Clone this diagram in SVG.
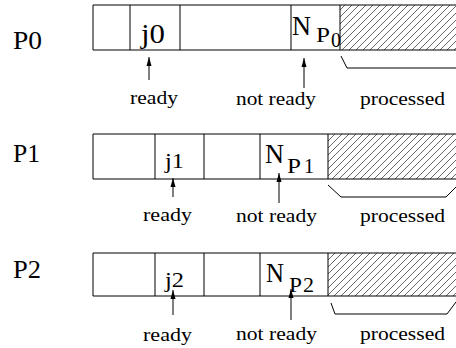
<svg xmlns="http://www.w3.org/2000/svg" width="456" height="348" viewBox="0 0 456 348">
<style>
  text { font-family: "Liberation Serif", "Times New Roman", serif; fill: #000; }
  .box { fill: none; stroke: #000; stroke-width: 1; }
  .div { stroke: #000; stroke-width: 1; }
  .hatch { fill: url(#hatch); stroke: none; }
  .lbl { font-size: 19px; }
  .big { font-size: 25px; }
  .arrow { stroke: #000; stroke-width: 1; fill: none; marker-end: url(#ah); }
  .brace { stroke: #000; stroke-width: 1; fill: none; }
</style>
<defs>
  <pattern id="hatch" patternUnits="userSpaceOnUse" width="7" height="7">
    <path d="M-1,8 L8,-1 M-1,1 L1,-1 M6,8 L8,6" stroke="#000" stroke-width="0.6"/>
  </pattern>
  <marker id="ah" markerWidth="10" markerHeight="8" refX="9" refY="4" orient="auto" markerUnits="userSpaceOnUse">
    <path d="M0,1.5 L9,4 L0,6.5 Z" fill="#000"/>
  </marker>
</defs>
<rect width="456" height="348" fill="#fff"/>

<g id="row-p0">
  <text class="big" x="13" y="49" textLength="29" lengthAdjust="spacingAndGlyphs">P0</text>
  <rect class="hatch" x="340" y="5" width="116" height="45"/>
  <path class="box" d="M457,5 L93,5 L93,50 L457,50"/>
  <line class="div" x1="130" y1="5" x2="130" y2="50"/>
  <line class="div" x1="180" y1="5" x2="180" y2="50"/>
  <line class="div" x1="291" y1="5" x2="291" y2="50"/>
  <line class="div" x1="340" y1="5" x2="340" y2="50"/>
  <text x="141" y="43" font-size="27" textLength="24" lengthAdjust="spacingAndGlyphs">j0</text>
  <text x="292" y="35" font-size="27" textLength="19" lengthAdjust="spacingAndGlyphs">N</text>
  <text x="316" y="42" font-size="21" textLength="14" lengthAdjust="spacingAndGlyphs">P</text>
  <text x="331" y="47" font-size="22" textLength="10" lengthAdjust="spacingAndGlyphs">0</text>
  <text class="lbl" x="130" y="104" textLength="48" lengthAdjust="spacingAndGlyphs">ready</text>
  <text class="lbl" x="236" y="105" textLength="80" lengthAdjust="spacingAndGlyphs">not ready</text>
  <text class="lbl" x="360" y="105" textLength="85" lengthAdjust="spacingAndGlyphs">processed</text>
</g>

<g id="row-p1">
  <text class="big" x="13" y="162" textLength="27" lengthAdjust="spacingAndGlyphs">P1</text>
  <rect class="hatch" x="328" y="134" width="128" height="45"/>
  <path class="box" d="M457,134 L93,134 L93,179 L457,179"/>
  <line class="div" x1="155" y1="134" x2="155" y2="179"/>
  <line class="div" x1="204" y1="134" x2="204" y2="179"/>
  <line class="div" x1="260" y1="134" x2="260" y2="179"/>
  <line class="div" x1="328" y1="134" x2="328" y2="179"/>
  <text x="165" y="168" font-size="22" textLength="19" lengthAdjust="spacingAndGlyphs">j1</text>
  <text x="265" y="163" font-size="27" textLength="19" lengthAdjust="spacingAndGlyphs">N</text>
  <text x="287" y="173" font-size="22" textLength="14" lengthAdjust="spacingAndGlyphs">P</text>
  <text x="304" y="173" font-size="22" textLength="10" lengthAdjust="spacingAndGlyphs">1</text>
  <text class="lbl" x="143" y="221" textLength="49" lengthAdjust="spacingAndGlyphs">ready</text>
  <text class="lbl" x="236" y="222" textLength="81" lengthAdjust="spacingAndGlyphs">not ready</text>
  <text class="lbl" x="360" y="222" textLength="85" lengthAdjust="spacingAndGlyphs">processed</text>
</g>

<g id="row-p2">
  <text class="big" x="13" y="278" textLength="28" lengthAdjust="spacingAndGlyphs">P2</text>
  <rect class="hatch" x="328" y="253" width="128" height="43"/>
  <path class="box" d="M457,253 L93,253 L93,296 L457,296"/>
  <line class="div" x1="155" y1="253" x2="155" y2="296"/>
  <line class="div" x1="204" y1="253" x2="204" y2="296"/>
  <line class="div" x1="260" y1="253" x2="260" y2="296"/>
  <line class="div" x1="328" y1="253" x2="328" y2="296"/>
  <text x="165" y="287" font-size="22" textLength="19" lengthAdjust="spacingAndGlyphs">j2</text>
  <text x="266" y="282" font-size="28" textLength="18" lengthAdjust="spacingAndGlyphs">N</text>
  <text x="289" y="292" font-size="22" textLength="13" lengthAdjust="spacingAndGlyphs">P</text>
  <text x="303" y="292" font-size="22" textLength="11" lengthAdjust="spacingAndGlyphs">2</text>
  <text class="lbl" x="143" y="341" textLength="49" lengthAdjust="spacingAndGlyphs">ready</text>
  <text class="lbl" x="236" y="340" textLength="81" lengthAdjust="spacingAndGlyphs">not ready</text>
  <text class="lbl" x="360" y="340" textLength="85" lengthAdjust="spacingAndGlyphs">processed</text>
</g>

<g id="connectors">
  <line class="arrow" x1="149" y1="80" x2="149" y2="57"/>
  <line class="arrow" x1="304" y1="88" x2="304" y2="58"/>
  <path class="brace" d="M341,56 L347,68 L457,68"/>
  <line class="arrow" x1="173" y1="197" x2="173" y2="178"/>
  <line class="arrow" x1="279" y1="203" x2="279" y2="173"/>
  <path class="brace" d="M328,185 L341,197 L446,197 L456,187"/>
  <line class="arrow" x1="173" y1="315" x2="173" y2="290"/>
  <line class="arrow" x1="291" y1="320" x2="291" y2="289"/>
  <path class="brace" d="M331,303 L335,314 L447,314 L456,302"/>
</g>
</svg>
